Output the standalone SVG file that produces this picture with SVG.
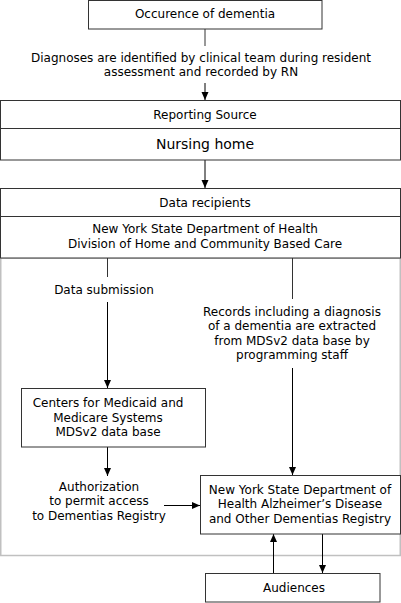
<svg xmlns="http://www.w3.org/2000/svg" width="401" height="603" viewBox="0 0 401 603">
<defs>
<marker id="ah" viewBox="0 0 8 8" refX="8" refY="4" markerWidth="8" markerHeight="8" markerUnits="userSpaceOnUse" orient="auto"><path d="M0,0.5 L8,4 L0,7.5 Z" fill="#000"/></marker>
<style>
text{font-family:"DejaVu Sans",Verdana,sans-serif;font-size:12px;fill:#000;text-anchor:middle}
.big{font-size:14px}
.box{fill:#fff;stroke:#333;stroke-width:1}
.ln{stroke:#333;stroke-width:1;fill:none}
.ar{stroke:#000;stroke-width:1;fill:none;marker-end:url(#ah)}
</style>
</defs>
<rect width="401" height="603" fill="#fff"/>
<rect x="0.75" y="258" width="399.5" height="297.5" fill="none" stroke="#c0c0c0" stroke-width="1.5"/>
<g id="connectors">
<line class="ln" x1="205" y1="29" x2="205" y2="46"/>
<line class="ar" x1="205" y1="83" x2="205" y2="100"/>
<line class="ar" x1="205" y1="160" x2="205" y2="188"/>
<line class="ln" x1="107.5" y1="258" x2="107.5" y2="277"/>
<line class="ar" x1="107.5" y1="302" x2="107.5" y2="388"/>
<line class="ln" x1="292.5" y1="258" x2="292.5" y2="299"/>
<line class="ar" x1="292.5" y1="368" x2="292.5" y2="475"/>
<line class="ar" x1="107.5" y1="447" x2="107.5" y2="476"/>
<line class="ar" x1="164" y1="505.5" x2="200" y2="505.5"/>
<line class="ar" x1="273.5" y1="573" x2="273.5" y2="534"/>
<line class="ar" x1="322.5" y1="534" x2="322.5" y2="573"/>
</g>
<g id="occurence">
<rect class="box" x="88.5" y="0.5" width="233.5" height="28.5"/>
<text x="205" y="18">Occurence of dementia</text>
</g>
<g id="label-diagnoses">
<text x="201" y="62">Diagnoses are identified by clinical team during resident</text>
<text x="201" y="76">assessment and recorded by RN</text>
</g>
<g id="reporting">
<rect class="box" x="0.5" y="100.5" width="400" height="59.5"/>
<line class="ln" x1="0.5" y1="128.5" x2="400.5" y2="128.5"/>
<text x="205" y="119">Reporting Source</text>
<text class="big" x="205" y="149">Nursing home</text>
</g>
<g id="recipients">
<rect class="box" x="0.5" y="188.5" width="400" height="69.5"/>
<line class="ln" x1="0.5" y1="216.5" x2="400.5" y2="216.5"/>
<text x="205" y="207">Data recipients</text>
<text x="205" y="233">New York State Department of Health</text>
<text x="205" y="248">Division of Home and Community Based Care</text>
</g>
<g id="label-submission">
<text x="104" y="294">Data submission</text>
</g>
<g id="label-records">
<text x="292" y="316">Records including a diagnosis</text>
<text x="292" y="330">of a dementia are extracted</text>
<text x="292" y="345">from MDSv2 data base by</text>
<text x="292" y="359">programming staff</text>
</g>
<g id="cms">
<rect class="box" x="21.5" y="388.5" width="184" height="58.5"/>
<text x="108" y="407">Centers for Medicaid and</text>
<text x="108" y="422">Medicare Systems</text>
<text x="108" y="436">MDSv2 data base</text>
</g>
<g id="label-authorization">
<text x="99" y="491">Authorization</text>
<text x="99" y="505">to permit access</text>
<text x="99" y="520">to Dementias Registry</text>
</g>
<g id="registry">
<rect class="box" x="200.5" y="475.5" width="200" height="58.5"/>
<text x="300" y="494">New York State Department of</text>
<text x="300" y="508">Health Alzheimer’s Disease</text>
<text x="300" y="523">and Other Dementias Registry</text>
</g>
<g id="audiences">
<rect class="box" x="205.5" y="573.5" width="174.5" height="28.5"/>
<text x="294" y="592">Audiences</text>
</g>
</svg>
